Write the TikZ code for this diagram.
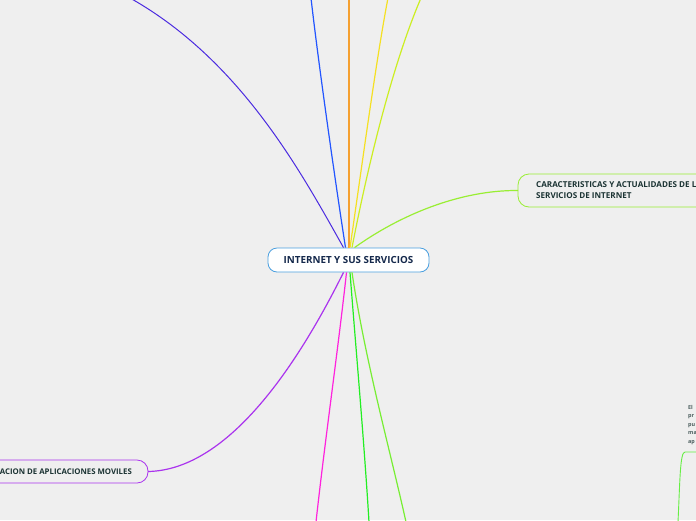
\documentclass[tikz,border=0pt]{standalone}
\usepackage{fontspec}
\setmainfont{Open Sans}
\usetikzlibrary{positioning}
\definecolor{bg}{HTML}{EFEFEF}
\definecolor{cborder}{HTML}{4A9FDF}
\definecolor{ctext}{HTML}{14284B}
\definecolor{indigo}{HTML}{4B2BE0}
\definecolor{lblue}{HTML}{2255FF}
\definecolor{lorange}{HTML}{F5A030}
\definecolor{lyellow}{HTML}{F5E022}
\definecolor{lyg}{HTML}{CCEE22}
\definecolor{llime}{HTML}{99EE33}
\definecolor{lpurple}{HTML}{AA33EE}
\definecolor{lmagenta}{HTML}{FF22DD}
\definecolor{lgreen}{HTML}{22EE22}
\definecolor{llgreen}{HTML}{77EE33}
\definecolor{rgreen}{HTML}{66EE44}
\definecolor{btext}{HTML}{1B3333}
\tikzset{
  conn/.style={line width=1.2pt},
  central/.style={draw=cborder, fill=white, rounded corners=9pt, line width=0.8pt,
    minimum width=161pt, minimum height=24pt, font=\bfseries\fontsize{9.8}{11}\selectfont, text=ctext, inner sep=0pt},
  topic/.style={rounded corners=11pt, line width=0.8pt, inner sep=0pt},
  ttext/.style={font=\bfseries\fontsize{8.1}{11}\selectfont, text=btext, align=left, inner sep=0pt},
  btextstyle/.style={font=\bfseries\fontsize{7.8}{11}\selectfont, text=btext, align=left, inner sep=0pt},
  smalltext/.style={font=\bfseries\fontsize{5.4}{8.5}\selectfont, text=btext!80, align=left, inner sep=0pt},
}
\begin{document}
\begin{tikzpicture}[x=1pt,y=-1pt]
\fill[bg] (0,0) rectangle (696,520);
\clip (0,0) rectangle (696,520);
\useasboundingbox (0,0) rectangle (696,520);
% central node
\node[central] (c) at (348.5,260) {INTERNET Y SUS SERVICIOS};
% free ends
\coordinate (e1) at (130,-2);
\coordinate (e2) at (311,-2);
\coordinate (e3) at (349,-2);
\coordinate (e4) at (388,-2);
\coordinate (e5) at (421,-2);
\coordinate (e8) at (316,522);
\coordinate (e9) at (369,522);
\coordinate (e10) at (406,522);
% topic boxes
\draw[topic, draw=llime] (518,174) rectangle (720,207);
\node[ttext, anchor=west] (t1) at (536,190.5) {CARACTERISTICAS Y ACTUALIDADES DE L\\SERVICIOS DE INTERNET};
\coordinate (t1w) at (518,190.5);
\draw[topic, draw=lpurple] (-30,460) rectangle (148,483);
\node[btextstyle, anchor=east] (t2) at (132,471.5) {ACION DE APLICACIONES MOVILES};
\coordinate (t2e) at (148,471.5);
% connectors top
\draw[conn, indigo, line width=1pt] ([xshift=-5pt]c.north) .. controls (300,170) and (240,60) .. (e1);
\draw[conn, lblue] ([xshift=-3pt]c.north) .. controls (335,180) and (318,60) .. (e2);
\draw[conn, lorange] ([xshift=0.5pt]c.north) -- (e3);
\draw[conn, lyellow] ([xshift=1.5pt]c.north) .. controls (360,180) and (376,60) .. (e4);
\draw[conn, lyg] ([xshift=3.5pt]c.north) .. controls (365,180) and (390,70) .. (e5);
\draw[conn, llime] ([xshift=6pt]c.north) .. controls (400,215) and (460,190) .. (t1w);
% connectors bottom
\draw[conn, lpurple] ([xshift=-5pt]c.south) .. controls (300,360) and (230,470) .. (t2e);
\draw[conn, lmagenta] ([xshift=-2pt]c.south) .. controls (338,350) and (325,440) .. (e8);
\draw[conn, lgreen] ([xshift=1.5pt]c.south) .. controls (356,350) and (364,440) .. (e9);
\draw[conn, llgreen] ([xshift=3.5pt]c.south) .. controls (365,360) and (390,450) .. (e10);
% right-edge partial node
\node[smalltext, anchor=north west] (t3) at (688,405) {El\\pr\\pu\\ma\\ap};
\coordinate (u1) at (685,452);
\coordinate (u2) at (700,452);
\coordinate (u0) at (678,522);
\draw[conn, rgreen, line width=0.9pt] (u0) .. controls (680,480) and (680,452) .. (u1) -- (u2);
\end{tikzpicture}
\end{document}
